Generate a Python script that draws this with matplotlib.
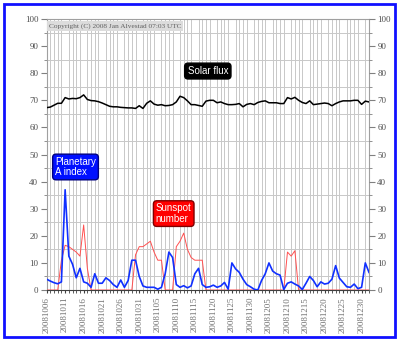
import numpy as np
import matplotlib
matplotlib.use("Agg")
from matplotlib import pyplot as plt
from matplotlib.patches import Rectangle


# daily values, first day 2008-10-06, last day 2009-01-01
SOLAR_FLUX = [
    67.3, 67.5, 68.2, 68.9, 68.9, 71.0, 70.5, 70.7, 70.6, 71.0,
    72.0, 70.3, 69.9, 69.8, 69.5, 69.0, 68.4, 67.8, 67.6, 67.6,
    67.4, 67.3, 67.2, 67.2, 67.0, 68.0, 67.0, 68.9, 69.8, 68.6,
    68.2, 68.4, 68.0, 68.1, 68.4, 69.4, 71.5, 71.0, 69.8, 68.4,
    68.4, 68.1, 67.8, 69.7, 70.0, 70.0, 69.1, 69.4, 68.8, 68.4,
    68.4, 68.5, 68.8, 67.6, 68.5, 68.8, 68.4, 69.2, 69.6, 69.8,
    69.1, 69.1, 69.1, 68.8, 68.8, 71.0, 70.5, 71.1, 70.0, 69.2,
    68.8, 69.8, 68.4, 68.6, 68.8, 69.0, 68.8, 68.0, 68.8, 69.4,
    69.8, 69.8, 69.8, 70.0, 70.0, 68.5, 69.7, 69.4,
]

A_INDEX = [
    4, 3.3, 2.7, 2.3, 3, 37, 12.5, 9.5, 4.5, 8,
    3, 2.5, 1, 6, 2.5, 2.5, 4.5, 3.5, 2, 1,
    3.7, 1, 3.5, 11, 11, 5, 1.5, 1, 1, 1,
    0.3, 1, 6, 14, 12, 2, 1, 1.6, 0.8, 1.5,
    6, 8, 2, 1, 1.2, 1.8, 1, 1.5, 2.8, 0.3,
    10, 7.8, 6.5, 4, 2, 1.2, 0.3, 0, 3.5, 6,
    10, 7, 6, 5.5, 0.2, 2.5, 3, 2.2, 1.5, 0.2,
    2.5, 5, 3.5, 1.2, 3, 2.2, 2.5, 4, 9, 4.4,
    2.8, 1.2, 1, 2.2, 0.5, 1, 10, 6.5,
]

SUNSPOTS = [
    0, 0, 0, 0, 11, 16.5, 16, 15, 14, 12.5,
    24, 8, 0, 0, 0, 0, 0, 0, 0, 0,
    0, 0, 0, 0, 13, 16, 16, 17, 18, 14,
    11, 11, 0, 0, 0, 16, 18, 21, 15, 12,
    11, 11, 11, 0, 0, 0, 0, 0, 0, 0,
    0, 0, 0, 0, 0, 0, 0, 0, 0, 0,
    0, 0, 0, 0, 0, 14, 12.5, 14.5, 0, 0,
    0, 0, 0, 0, 0, 0, 0, 0, 0, 0,
    0, 0, 0, 0, 0, 0, 0, 0,
]

TICK_LABELS = [
    "20081006", "20081011", "20081016", "20081021", "20081026", "20081031",
    "20081105", "20081110", "20081115", "20081120", "20081125", "20081130",
    "20081205", "20081210", "20081215", "20081220", "20081225", "20081230",
]

SERIF = "Liberation Serif"
SANS = "Liberation Sans"


def main():
    days = np.arange(len(SOLAR_FLUX))

    fig = plt.figure(figsize=(4.0, 3.42), dpi=100)
    fig.patches.append(Rectangle((0.01, 0.0146), 0.9775, 0.9737,
                                 transform=fig.transFigure, fill=False,
                                 edgecolor="#1010ff", linewidth=2))

    ax = fig.add_axes([0.1165, 0.152, 0.806, 0.7924])
    ax.set_xlim(0, len(days) - 1)
    ax.set_ylim(0, 100)

    # grid: one vertical line per day, horizontal every 5
    ax.set_xticks(days, minor=True)
    ax.set_yticks(np.arange(0, 101, 5), minor=True)
    ax.grid(which="minor", color="#c8c8c8", linewidth=0.7)
    ax.set_axisbelow(True)

    ax.set_xticks(np.arange(0, len(days), 5))
    ax.set_xticklabels(TICK_LABELS, rotation=90, family=SERIF,
                       fontsize=6.5, color="#707070")
    ax.set_yticks(np.arange(0, 101, 10))
    ax.set_yticklabels([str(v) for v in range(0, 101, 10)], family=SERIF,
                       fontsize=6.5, color="#505050")
    ax.tick_params(axis="x", which="major", length=2, color="#404040", pad=3)
    ax.tick_params(axis="x", which="minor", length=2, color="#404040")
    ax.tick_params(axis="y", which="major", length=4, color="#808080", pad=2)
    ax.tick_params(axis="y", which="minor", length=2, color="#808080")

    for side in ("left", "right", "top"):
        ax.spines[side].set_color("#a0a0a0")
    ax.spines["bottom"].set_color("#404040")

    ax2 = ax.twinx()
    ax2.set_ylim(0, 100)
    ax2.set_yticks(np.arange(0, 101, 10))
    ax2.set_yticks(np.arange(0, 101, 5), minor=True)
    ax2.set_yticklabels([str(v) for v in range(0, 101, 10)], family=SERIF,
                        fontsize=6.5, color="#505050")
    ax2.tick_params(axis="y", which="major", length=4, color="#808080", pad=2)
    ax2.tick_params(axis="y", which="minor", length=2, color="#808080")
    for side in ("left", "right", "top", "bottom"):
        ax2.spines[side].set_visible(False)

    ax.plot(days, SUNSPOTS, color="#ff5050", linewidth=0.7, zorder=3)
    ax.plot(days, A_INDEX, color="#1030ff", linewidth=1.2, zorder=4)
    ax.plot(days, SOLAR_FLUX, color="black", linewidth=1.1, zorder=4)

    ax.text(0.006, 0.985, "Copyright (C) 2008 Jan Alvestad 07:03 UTC",
            transform=ax.transAxes, ha="left", va="top", family=SERIF,
            fontsize=5.3, color="#606060",
            bbox=dict(boxstyle="square,pad=0.25", facecolor="#dcdcdc",
                      edgecolor="none"))

    label_style = dict(family=SANS, fontsize=7, color="white",
                       ha="center", va="center", zorder=6)
    ax.text(43.5, 80.8, "Solar flux",
            bbox=dict(boxstyle="round,pad=0.3,rounding_size=0.35",
                      facecolor="black", edgecolor="black"), **label_style)
    ax.text(7.8, 45.4, "Planetary\nA index", multialignment="left",
            linespacing=1.1,
            bbox=dict(boxstyle="round,pad=0.25,rounding_size=0.35",
                      facecolor="#0010ff", edgecolor="#000080"), **label_style)
    ax.text(34.3, 28.2, "Sunspot\nnumber", multialignment="left",
            linespacing=1.1,
            bbox=dict(boxstyle="round,pad=0.25,rounding_size=0.35",
                      facecolor="#ff0000", edgecolor="#800000"), **label_style)

    fig.savefig("out.png", dpi=100)


if __name__ == "__main__":
    main()
